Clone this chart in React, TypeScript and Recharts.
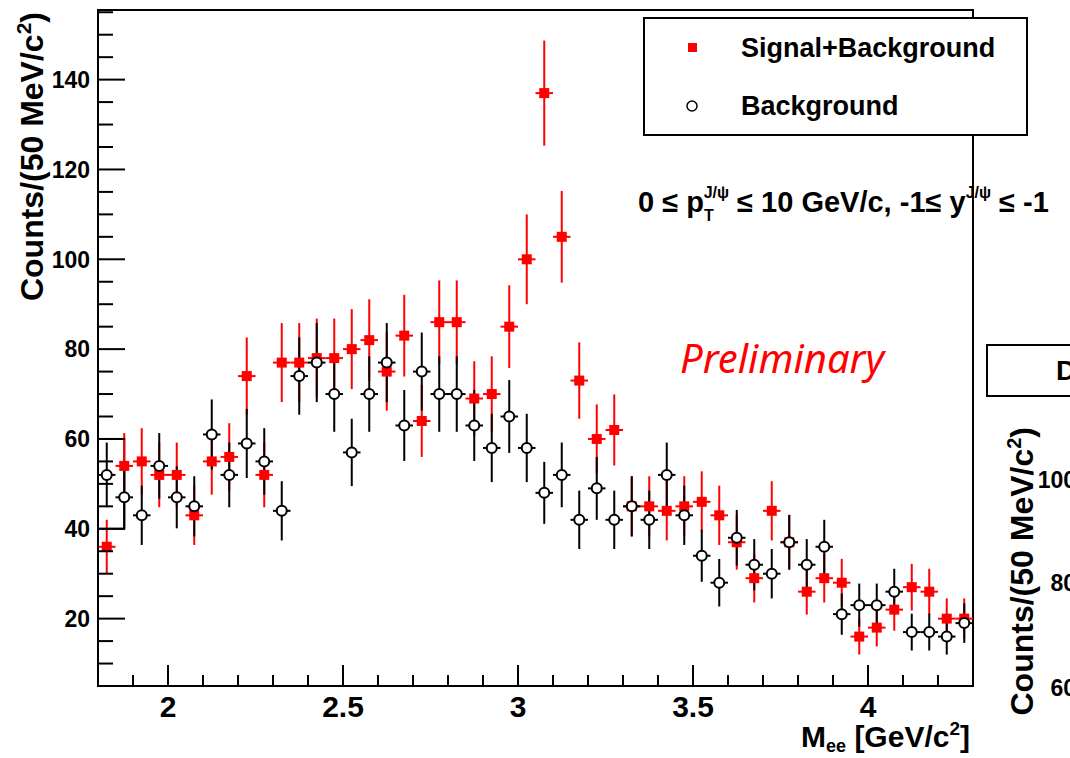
import React from "react"
import { ScatterChart, Scatter, XAxis, YAxis, ErrorBar, ReferenceArea } from "recharts"

// bin centres, 50 MeV bins from 1.8 to 4.3 GeV/c^2
const binCenters = [
  1.825, 1.875, 1.925, 1.975, 2.025, 2.075, 2.125, 2.175, 2.225, 2.275,
  2.325, 2.375, 2.425, 2.475, 2.525, 2.575, 2.625, 2.675, 2.725, 2.775,
  2.825, 2.875, 2.925, 2.975, 3.025, 3.075, 3.125, 3.175, 3.225, 3.275,
  3.325, 3.375, 3.425, 3.475, 3.525, 3.575, 3.625, 3.675, 3.725, 3.775,
  3.825, 3.875, 3.925, 3.975, 4.025, 4.075, 4.125, 4.175, 4.225, 4.275,
]

const sigBkg = [
  36, 54, 55, 52, 52, 43, 55, 56, 74, 52,
  77, 77, 78, 78, 80, 82, 75, 83, 64, 86,
  86, 69, 70, 85, 100, 137, 105, 73, 60, 62,
  45, 45, 44, 45, 46, 43, 37, 29, 44, 37,
  26, 29, 28, 16, 18, 22, 27, 26, 20, 20,
]
const sigBkgErr = [
  6.0, 7.3, 7.4, 7.2, 7.2, 6.6, 7.4, 7.5, 8.6, 7.2,
  8.8, 8.8, 8.8, 8.8, 8.9, 9.1, 8.7, 9.1, 8.0, 9.3,
  9.3, 8.3, 8.4, 9.2, 10.0, 11.7, 10.2, 8.5, 7.7, 7.9,
  6.7, 6.7, 6.6, 6.7, 6.8, 6.6, 6.1, 5.4, 6.6, 6.1,
  5.1, 5.4, 5.3, 4.0, 4.2, 4.7, 5.2, 5.1, 4.5, 4.5,
]

const bkg = [
  52, 47, 43, 54, 47, 45, 61, 52, 59, 55,
  44, 74, 77, 70, 57, 70, 77, 63, 75, 70,
  70, 63, 58, 65, 58, 48, 52, 42, 49, 42,
  45, 42, 52, 43, 34, 28, 38, 32, 30, 37,
  32, 36, 21, 23, 23, 26, 17, 17, 16, 19,
]
const bkgErr = [
  7.2, 6.9, 6.6, 7.3, 6.9, 6.7, 7.8, 7.2, 7.7, 7.4,
  6.6, 8.6, 8.8, 8.4, 7.5, 8.4, 8.8, 7.9, 8.7, 8.4,
  8.4, 7.9, 7.6, 8.1, 7.6, 6.9, 7.2, 6.5, 7.0, 6.5,
  6.7, 6.5, 7.2, 6.6, 5.8, 5.3, 6.2, 5.7, 5.5, 6.1,
  5.7, 6.0, 4.6, 4.8, 4.8, 5.1, 4.1, 4.1, 4.0, 4.4,
]

const xTicks = [
  1.9, 2, 2.1, 2.2, 2.3, 2.4, 2.5, 2.6, 2.7, 2.8, 2.9, 3, 3.1, 3.2,
  3.3, 3.4, 3.5, 3.6, 3.7, 3.8, 3.9, 4, 4.1, 4.2,
]
const yTicks = [
  10, 15, 20, 25, 30, 35, 40, 45, 50, 55, 60, 65, 70, 75, 80,
  85, 90, 95, 100, 105, 110, 115, 120, 125, 130, 135, 140, 145, 150, 155,
]

const HALF_BIN = 0.025
const RED = "#ff0000"
const FONT = "'Liberation Sans', Arial, sans-serif"

const sigData = binCenters.map((x, i) => ({ x, y: sigBkg[i], ey: sigBkgErr[i], ex: HALF_BIN }))
const bkgData = binCenters.map((x, i) => ({ x, y: bkg[i], ey: bkgErr[i], ex: HALF_BIN }))

function XTick(props: any) {
  const { x, y, payload } = props
  const v = payload.value
  const major = Math.abs(v * 2 - Math.round(v * 2)) < 1e-6
  return (
    <g>
      <line x1={x} x2={x} y1={y} y2={y - (major ? 21 : 11)} stroke="#000" strokeWidth={2} />
      {major && (
        <text x={x} y={y + 31} textAnchor="middle" fontFamily={FONT} fontWeight="bold" fontSize={30} fill="#000">
          {String(v)}
        </text>
      )}
    </g>
  )
}

function YTick(props: any) {
  const { x, y, payload } = props
  const v = payload.value
  const major = v % 20 === 0
  return (
    <g>
      <line x1={x} x2={x + (major ? 27 : 15)} y1={y} y2={y} stroke="#000" strokeWidth={2} />
      {major && (
        <text x={x - 8} y={y} dy="0.36em" textAnchor="end" fontFamily={FONT} fontWeight="bold" fontSize={23} fill="#000">
          {v}
        </text>
      )}
    </g>
  )
}

const redSquare = (p: any) => (
  <rect x={p.cx - 5} y={p.cy - 5} width={10} height={10} fill={RED} />
)
const openCircle = (p: any) => (
  <circle cx={p.cx} cy={p.cy} r={5} fill="#fff" stroke="#000" strokeWidth={2} />
)

export default function App() {
  return (
    <div style={{ position: "absolute", left: 0, top: 0, width: 1070, height: 758, overflow: "hidden", background: "#fff" }}>
      <ScatterChart width={1070} height={758} margin={{ top: 10, right: 97, bottom: 0, left: 0 }}>
        <XAxis
          type="number"
          dataKey="x"
          domain={[1.8, 4.3]}
          ticks={xTicks}
          interval={0}
          height={72}
          tickSize={0}
          tickMargin={0}
          tickLine={false}
          tick={<XTick />}
          axisLine={{ stroke: "#000", strokeWidth: 2 }}
          allowDataOverflow
        />
        <YAxis
          type="number"
          dataKey="y"
          domain={[5, 155.5]}
          ticks={yTicks}
          interval={0}
          width={98}
          tickSize={0}
          tickMargin={0}
          tickLine={false}
          tick={<YTick />}
          axisLine={{ stroke: "#000", strokeWidth: 2 }}
          allowDataOverflow
        />
        <ReferenceArea x1={1.8} x2={4.3} y1={5} y2={155.5} fill="none" stroke="#000" strokeWidth={2} ifOverflow="visible" />
        <ReferenceArea x1={1.8} x2={1.875} y1={40} y2={60} fill="none" stroke="#000" strokeWidth={2} ifOverflow="visible" />
        <Scatter name="Signal+Background" data={sigData} shape={redSquare} isAnimationActive={false}>
          <ErrorBar dataKey="ey" direction="y" width={0} stroke={RED} strokeWidth={2} isAnimationActive={false} />
          <ErrorBar dataKey="ex" direction="x" width={0} stroke={RED} strokeWidth={2} isAnimationActive={false} />
        </Scatter>
        <Scatter name="Background" data={bkgData} shape={openCircle} isAnimationActive={false}>
          <ErrorBar dataKey="ey" direction="y" width={0} stroke="#000" strokeWidth={2} isAnimationActive={false} />
          <ErrorBar dataKey="ex" direction="x" width={0} stroke="#000" strokeWidth={2} isAnimationActive={false} />
        </Scatter>
      </ScatterChart>

      <svg width={1070} height={758} style={{ position: "absolute", left: 0, top: 0, pointerEvents: "none" }}>
        <g fontFamily={FONT} fontWeight="bold" fill="#000">
          {/* axis titles */}
          <text transform="translate(43,12) rotate(-90)" textAnchor="end" fontSize={32}>
            Counts/(50 MeV/c<tspan dy={-12} fontSize={21}>2</tspan><tspan dy={12}>)</tspan>
          </text>
          <text x={970} y={747} textAnchor="end" fontSize={30}>
            M<tspan dy={5} fontSize={18}>ee</tspan><tspan dy={-5}> [GeV/c</tspan>
            <tspan dy={-12} fontSize={19}>2</tspan><tspan dy={12}>]</tspan>
          </text>

          {/* legend */}
          <rect x={644} y={18} width={383} height={117} fill="#fff" stroke="#000" strokeWidth={2} />
          <rect x={688} y={43} width={9} height={9} fill={RED} />
          <circle cx={692} cy={106} r={5} fill="#fff" stroke="#000" strokeWidth={1.5} />
          <text x={741} y={57} fontSize={27}>Signal+Background</text>
          <text x={741} y={115} fontSize={27}>Background</text>

          {/* kinematic range */}
          <text x={638} y={212} fontSize={29}>
            0 ≤ p<tspan dy={9} fontSize={16}>T</tspan>
            <tspan dx={-10} dy={-23} fontSize={16}>J/ψ</tspan>
            <tspan dy={14}> ≤ 10 GeV/c, -1≤ y</tspan>
            <tspan dy={-14} fontSize={16}>J/ψ</tspan>
            <tspan dy={14}> ≤ -1</tspan>
          </text>

          {/* neighbouring panel, cut off at the right */}
          <rect x={987} y={345} width={120} height={51} fill="#fff" stroke="#000" strokeWidth={2} />
          <text x={1056} y={380} fontSize={28}>D</text>
          <text transform="translate(1033,427) rotate(-90)" textAnchor="end" fontSize={32}>
            Counts/(50 MeV/c<tspan dy={-12} fontSize={20}>2</tspan><tspan dy={12}>)</tspan>
          </text>
          <text x={1076} y={488} textAnchor="end" fontSize={23}>100</text>
          <text x={1076} y={591} textAnchor="end" fontSize={23}>80</text>
          <text x={1076} y={696} textAnchor="end" fontSize={23}>60</text>
        </g>
        <text x={680} y={373} fontFamily="'Noto Sans', 'Open Sans', sans-serif" fontStyle="italic" fontSize={40} fill={RED}>
          Preliminary
        </text>
      </svg>
    </div>
  )
}
